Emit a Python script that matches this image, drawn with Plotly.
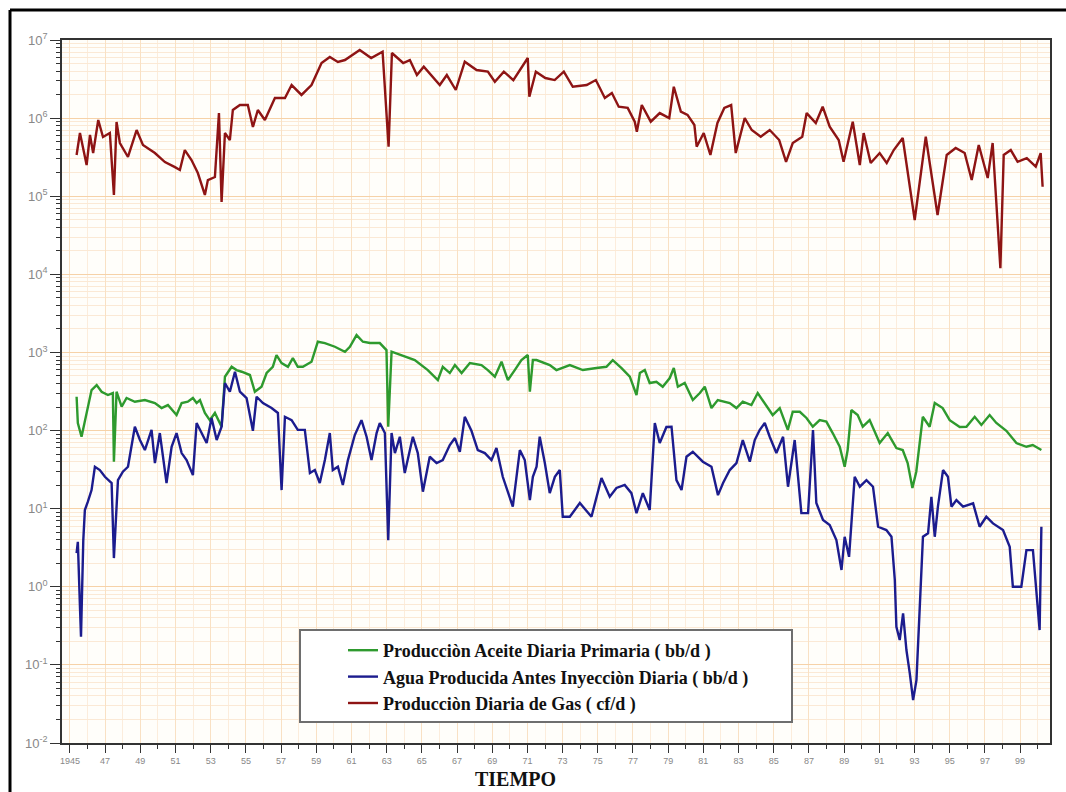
import plotly.graph_objects as go

# ---------------- data ----------------
oil_year = [1945.38, 1945.45, 1945.66, 1945.85, 1946.02, 1946.23, 1946.52, 1946.80, 1947.16, 1947.44,
            1947.50, 1947.65, 1947.94, 1948.22, 1948.69, 1949.26, 1949.83, 1950.21, 1950.57, 1951.06,
            1951.35, 1951.70, 1951.99, 1952.20, 1952.39, 1952.67, 1952.95, 1953.24, 1953.62, 1953.81,
            1954.19, 1954.47, 1954.76, 1955.23, 1955.51, 1955.89, 1956.18, 1956.53, 1956.74, 1957.03,
            1957.39, 1957.67, 1957.95, 1958.24, 1958.73, 1959.09, 1959.49, 1960.06, 1960.63, 1960.91,
            1961.29, 1961.65, 1962.05, 1962.61, 1962.99, 1963.09, 1963.28, 1963.85, 1964.60, 1965.34,
            1965.91, 1966.19, 1966.59, 1966.88, 1967.26, 1967.73, 1968.39, 1968.75, 1969.15, 1969.53,
            1969.89, 1970.28, 1970.66, 1971.02, 1971.14, 1971.31, 1971.52, 1972.27, 1972.65, 1973.41,
            1974.15, 1974.93, 1975.49, 1975.85, 1976.35, 1976.82, 1977.20, 1977.39, 1977.67, 1977.95,
            1978.33, 1978.69, 1979.09, 1979.32, 1979.55, 1979.94, 1980.40, 1980.80, 1981.08, 1981.46,
            1981.82, 1982.50, 1982.88, 1983.24, 1983.73, 1984.09, 1984.59, 1984.94, 1985.34, 1985.80,
            1986.08, 1986.48, 1986.86, 1987.22, 1987.61, 1987.99, 1988.35, 1988.75, 1989.03, 1989.20,
            1989.41, 1989.77, 1990.06, 1990.45, 1991.02, 1991.48, 1991.97, 1992.33, 1992.61, 1992.88,
            1993.10, 1993.47, 1993.86, 1994.15, 1994.60, 1995.00, 1995.57, 1995.95, 1996.42, 1996.80,
            1997.27, 1997.65, 1998.22, 1998.79, 1999.36, 1999.72, 2000.21]
oil_bbd = [271, 125, 83.3, 136, 202, 330, 382, 314, 285, 302,
           39.9, 314, 202, 261, 234, 246, 225, 194, 212, 158,
           225, 234, 261, 225, 246, 168, 136, 168, 112, 489,
           656, 595, 566, 514, 314, 364, 545, 656, 926, 732,
           656, 848, 656, 656, 760, 1371, 1319, 1183, 1021, 1183,
           1670, 1371, 1319, 1319, 1073, 112, 1021, 926, 799, 595,
           443, 656, 545, 690, 545, 732, 690, 595, 489, 760,
           443, 595, 799, 926, 314, 799, 799, 690, 595, 690,
           595, 631, 656, 799, 631, 489, 285, 545, 595, 406,
           422, 364, 470, 631, 364, 406, 246, 302, 364, 194,
           246, 225, 194, 234, 212, 302, 202, 158, 194, 102,
           174, 174, 145, 112, 136, 130, 92.9, 62, 34.4, 56.3,
           183, 158, 112, 136, 69.2, 92.9, 59.7, 56.3, 38.4, 18.4,
           29.7, 150, 112, 225, 194, 136, 111, 112, 150, 118,
           158, 125, 99.3, 69.2, 62, 65.2, 56.3]

water_year = [1945.38, 1945.45, 1945.57, 1945.63, 1945.76, 1945.85, 1946.02, 1946.23, 1946.42, 1946.70,
              1946.99, 1947.37, 1947.50, 1947.73, 1948.01, 1948.30, 1948.69, 1948.98, 1949.26, 1949.64,
              1949.83, 1950.11, 1950.49, 1950.78, 1951.06, 1951.35, 1951.63, 1951.99, 1952.20, 1952.48,
              1952.77, 1953.05, 1953.34, 1953.62, 1953.81, 1954.09, 1954.38, 1954.66, 1955.04, 1955.40,
              1955.61, 1955.97, 1956.46, 1956.82, 1957.03, 1957.22, 1957.60, 1957.95, 1958.35, 1958.64,
              1958.92, 1959.20, 1959.49, 1959.77, 1959.94, 1960.23, 1960.51, 1960.80, 1961.19, 1961.57,
              1961.86, 1962.14, 1962.43, 1962.61, 1962.90, 1963.09, 1963.28, 1963.47, 1963.75, 1964.03,
              1964.49, 1964.77, 1965.06, 1965.45, 1965.84, 1966.19, 1966.59, 1966.88, 1967.16, 1967.44,
              1967.82, 1968.18, 1968.58, 1968.96, 1969.24, 1969.60, 1970.17, 1970.57, 1970.85, 1971.14,
              1971.31, 1971.52, 1971.70, 1971.99, 1972.27, 1972.56, 1972.84, 1973.01, 1973.41, 1973.98,
              1974.64, 1975.21, 1975.68, 1976.06, 1976.53, 1976.91, 1977.20, 1977.56, 1977.95, 1978.24,
              1978.52, 1978.90, 1979.19, 1979.47, 1979.76, 1980.04, 1980.40, 1980.97, 1981.46, 1981.83,
              1982.12, 1982.50, 1982.88, 1983.24, 1983.64, 1983.92, 1984.20, 1984.49, 1984.77, 1985.15,
              1985.53, 1985.81, 1986.19, 1986.57, 1986.95, 1987.23, 1987.42, 1987.80, 1988.18, 1988.56,
              1988.85, 1989.03, 1989.28, 1989.60, 1989.89, 1990.27, 1990.64, 1990.93, 1991.40, 1991.69,
              1991.88, 1991.97, 1992.16, 1992.35, 1992.54, 1992.73, 1992.92, 1993.11, 1993.30, 1993.48,
              1993.77, 1993.96, 1994.15, 1994.33, 1994.62, 1994.90, 1995.10, 1995.38, 1995.76, 1996.33,
              1996.70, 1997.08, 1997.46, 1998.03, 1998.41, 1998.59, 1999.07, 1999.36, 1999.73, 1999.92,
              2000.11, 2000.21]
water_bbd = [2.70, 3.77, 0.555, 0.229, 3.96, 9.60, 12.3, 17.3, 34.4, 31.2,
             25.6, 21.3, 2.33, 23.2, 29.7, 34.4, 112, 75.6, 56.3, 102,
             38.4, 92.9, 21.3, 62, 92.9, 51.5, 41.9, 26.9, 125, 92.9,
             69.2, 145, 75.6, 112, 406, 314, 566, 314, 261, 99.3,
             271, 225, 194, 168, 17.3, 150, 136, 102, 102, 28.6,
             31.2, 21.3, 41.9, 92.9, 31.2, 34.4, 20.1, 41.9, 87.6, 136,
             83.3, 41.9, 92.9, 125, 92.9, 3.96, 92.9, 51.5, 83.3, 28.6,
             83.3, 51.5, 16.5, 46.2, 38.4, 41.9, 65.2, 80.2, 53.5, 150,
             99.3, 56.3, 51.5, 41.9, 59.7, 25.6, 10.6, 56.3, 41.9, 12.9,
             25.6, 34.4, 83.3, 38.4, 15.8, 25.6, 31.2, 7.88, 7.88, 11.8,
             7.88, 24.7, 14.2, 18.4, 20.1, 15.8, 8.78, 15.8, 9.60, 125,
             69.2, 111, 112, 23.2, 17.3, 46.2, 53.5, 39.9, 34.4, 14.9,
             21.3, 31.2, 38.4, 75.6, 39.9, 75.6, 101.5, 125, 83.3, 51.5,
             83.3, 19.1, 75.6, 8.78, 8.78, 101.5, 11.8, 7.15, 6.17, 3.96,
             1.64, 4.37, 2.42, 25.6, 19.1, 23.2, 19.1, 5.87, 5.32, 4.37,
             1.22, 0.308, 0.208, 0.456, 0.155, 0.0785, 0.0354, 0.0639, 0.456, 4.37,
             4.83, 14.2, 4.37, 10.6, 31.2, 25.6, 10.6, 12.9, 10.6, 11.7,
             5.87, 7.88, 6.48, 5.32, 3.25, 1.0, 1.0, 2.95, 2.95, 1.0,
             0.279, 5.87]

gas_year = [1945.38, 1945.57, 1945.95, 1946.14, 1946.32, 1946.61, 1946.88, 1947.27, 1947.50, 1947.65,
            1947.84, 1948.30, 1948.79, 1949.15, 1949.83, 1950.40, 1950.97, 1951.25, 1951.53, 1951.91,
            1952.27, 1952.67, 1952.84, 1953.24, 1953.47, 1953.62, 1953.81, 1954.09, 1954.26, 1954.66,
            1955.11, 1955.40, 1955.68, 1956.08, 1956.65, 1957.22, 1957.60, 1958.16, 1958.73, 1959.30,
            1959.77, 1960.23, 1960.63, 1961.08, 1961.47, 1962.12, 1962.77, 1963.11, 1963.30, 1963.94,
            1964.32, 1964.72, 1965.11, 1966.02, 1966.42, 1966.93, 1967.44, 1968.11, 1968.75, 1969.15,
            1969.66, 1970.20, 1970.72, 1971.02, 1971.11, 1971.48, 1972.02, 1972.55, 1973.07, 1973.58,
            1974.37, 1974.89, 1975.40, 1975.80, 1976.19, 1976.70, 1977.10, 1977.22, 1977.50, 1978.01,
            1978.52, 1979.06, 1979.32, 1979.72, 1980.10, 1980.49, 1980.62, 1981.02, 1981.40, 1981.80,
            1982.19, 1982.58, 1982.84, 1983.35, 1983.75, 1984.26, 1984.77, 1985.31, 1985.70, 1986.08,
            1986.62, 1986.87, 1987.39, 1987.78, 1988.18, 1988.69, 1988.97, 1989.49, 1989.89, 1990.11,
            1990.51, 1991.02, 1991.42, 1991.82, 1992.33, 1993.01, 1993.64, 1994.31, 1994.83, 1995.34,
            1995.85, 1996.25, 1996.65, 1997.16, 1997.44, 1997.88, 1998.07, 1998.47, 1998.86, 1999.38,
            1999.89, 2000.17, 2000.28]
gas_cfd = [3.37e5, 6.44e5, 2.51e5, 6.08e5, 3.57e5, 9.46e5, 5.73e5, 6.44e5, 1.04e5, 8.91e5,
           4.8e5, 3.18e5, 7.04e5, 4.52e5, 3.57e5, 2.74e5, 2.36e5, 2.17e5, 3.9e5, 2.91e5,
           1.98e5, 1.04e5, 1.61e5, 1.76e5, 1.16e6, 8.43e4, 6.44e5, 5.24e5, 1.27e6, 1.47e6,
           1.47e6, 7.69e5, 1.27e6, 9.46e5, 1.81e6, 1.81e6, 2.65e6, 1.98e6, 2.65e6, 5.08e6,
           6.06e6, 5.23e6, 5.54e6, 6.43e6, 7.45e6, 5.88e6, 7.08e6, 4.3e5, 6.82e6, 5.08e6,
           5.54e6, 3.56e6, 4.55e6, 2.65e6, 3.56e6, 2.29e6, 5.27e6, 4.13e6, 3.93e6, 2.92e6,
           3.93e6, 3.07e6, 4.55e6, 5.88e6, 1.88e6, 3.93e6, 3.26e6, 3.07e6, 3.93e6, 2.52e6,
           2.65e6, 3.07e6, 1.81e6, 2.1e6, 1.4e6, 1.35e6, 9e5, 6.7e5, 1.47e6, 9e5,
           1.16e6, 1e6, 2.52e6, 1.21e6, 1.1e6, 8.16e5, 4.3e5, 6.44e5, 3.37e5, 8.66e5,
           1.35e6, 1.47e6, 3.57e5, 1e6, 7.04e5, 5.78e5, 7.04e5, 5.24e5, 2.76e5, 4.8e5,
           5.78e5, 1.16e6, 8.66e5, 1.4e6, 7.76e5, 5.24e5, 2.76e5, 9e5, 2.51e5, 6.44e5,
           2.66e5, 3.57e5, 2.66e5, 3.9e5, 5.56e5, 4.96e4, 5.78e5, 5.75e4, 3.37e5, 4.14e5,
           3.57e5, 1.61e5, 4.52e5, 1.71e5, 4.8e5, 1.2e4, 3.37e5, 3.9e5, 2.76e5, 3.08e5,
           2.39e5, 3.57e5, 1.32e5]

series_names = ["Producciòn Aceite Diaria Primaria ( bb/d )",
                "Agua Producida Antes Inyecciòn Diaria ( bb/d )",
                "Producciòn Diaria de Gas ( cf/d )"]

x_tickvals = [1945, 1947, 1949, 1951, 1953, 1955, 1957, 1959, 1961, 1963, 1965, 1967, 1969, 1971,
              1973, 1975, 1977, 1979, 1981, 1983, 1985, 1987, 1989, 1991, 1993, 1995, 1997, 1999]
x_ticktext = ["1945", "47", "49", "51", "53", "55", "57", "59", "61", "63", "65", "67", "69", "71",
              "73", "75", "77", "79", "81", "83", "85", "87", "89", "91", "93", "95", "97", "99"]
y_tickvals = [1e-2, 1e-1, 1e0, 1e1, 1e2, 1e3, 1e4, 1e5, 1e6, 1e7]
y_ticktext = ["10<sup>-2</sup>", "10<sup>-1</sup>", "10<sup>0</sup>", "10<sup>1</sup>",
              "10<sup>2</sup>", "10<sup>3</sup>", "10<sup>4</sup>", "10<sup>5</sup>",
              "10<sup>6</sup>", "10<sup>7</sup>"]

# ---------------- layout geometry ----------------
W, H = 1066, 792
ML, MR, MT, MB = 62, 16, 40, 49
PW, PH = W - ML - MR, H - MT - MB


def px_x(px):
    return (px - ML) / PW


def px_y(py):
    return (H - MB - py) / PH


fig = go.Figure()
fig.add_trace(go.Scatter(x=oil_year, y=oil_bbd, mode="lines", name=series_names[0],
                         line=dict(color="#2E9A2E", width=2.4)))
fig.add_trace(go.Scatter(x=water_year, y=water_bbd, mode="lines", name=series_names[1],
                         line=dict(color="#1C1C8E", width=2.4)))
fig.add_trace(go.Scatter(x=gas_year, y=gas_cfd, mode="lines", name=series_names[2],
                         line=dict(color="#8E1414", width=2.4)))

fig.update_layout(
    width=W, height=H,
    margin=dict(l=ML, r=MR, t=MT, b=MB),
    paper_bgcolor="white",
    plot_bgcolor="#FFFEFA",
    showlegend=True,
    legend=dict(x=px_x(343), y=px_y(632), xanchor="left", yanchor="top",
                bgcolor="rgba(0,0,0,0)", borderwidth=0, itemwidth=30,
                tracegroupgap=4,
                font=dict(family="Liberation Serif", size=18, color="#111", weight="bold")),
    xaxis=dict(range=[1944.55, 2000.7], tickmode="array", tickvals=x_tickvals, ticktext=x_ticktext,
               ticks="outside", ticklen=8, tickcolor="#333", tickwidth=1,
               tickfont=dict(family="Liberation Sans", size=9, color="#888"),
               showgrid=True, gridcolor="#F9E1C4", gridwidth=1,
               minor=dict(tick0=1944, dtick=1, ticks="outside", ticklen=4, tickcolor="#333",
                          showgrid=True, gridcolor="#FCEDDC"),
               showline=True, linecolor="#333", linewidth=1.5, mirror=True, zeroline=False),
    yaxis=dict(type="log", range=[-2, 7], tickmode="array", tickvals=y_tickvals, ticktext=y_ticktext,
               ticks="outside", ticklen=10, tickcolor="#333", tickwidth=1,
               tickfont=dict(family="Liberation Sans", size=13, color="#888"),
               showgrid=True, gridcolor="#F6D2A8", gridwidth=1,
               minor=dict(dtick="D1", ticks="outside", ticklen=4, tickcolor="#333",
                          showgrid=True, gridcolor="#FBE9D5"),
               showline=True, linecolor="#333", linewidth=1.5, mirror=True, zeroline=False),
    shapes=[
        # outer frame (top and left)
        dict(type="line", xref="paper", yref="paper", x0=px_x(10), x1=px_x(W + 5), y0=px_y(10), y1=px_y(10),
             line=dict(color="black", width=3)),
        dict(type="line", xref="paper", yref="paper", x0=px_x(10), x1=px_x(10), y0=px_y(10), y1=px_y(H + 5),
             line=dict(color="black", width=3)),
        # legend box
        dict(type="rect", xref="paper", yref="paper", x0=px_x(300), x1=px_x(792), y0=px_y(722), y1=px_y(630),
             line=dict(color="#6E6E6E", width=2), fillcolor="white", layer="above"),
    ],
    annotations=[
        dict(text="<b>TIEMPO</b>", xref="paper", yref="paper", x=px_x(515), y=px_y(779),
             xanchor="center", yanchor="middle", showarrow=False,
             font=dict(family="Liberation Serif", size=20, color="#111")),
    ],
)

fig.write_html("out.html",
               config={"displayModeBar": False},
               post_script="document.body.style.margin='0';document.body.style.padding='0';")
